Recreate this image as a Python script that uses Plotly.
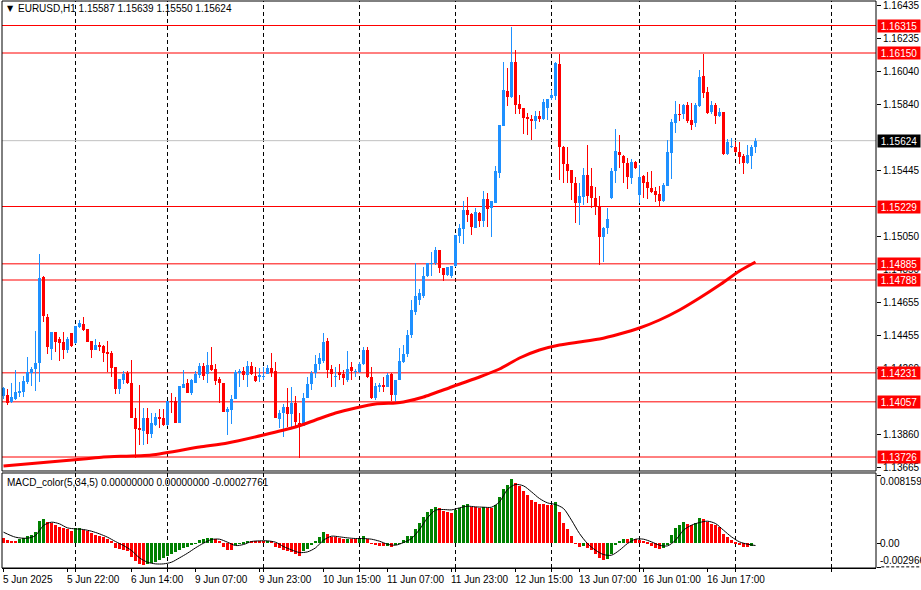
import plotly.graph_objects as go

# ---------------- data ----------------
opens = [1.14092,1.14098,1.14056,1.14074,1.14110,1.14116,1.14176,1.14230,1.14254,1.14290,
         1.14806,1.14566,1.14374,1.14476,1.14434,1.14416,1.14368,1.14470,1.14410,1.14506,
         1.14524,1.14494,1.14422,1.14368,1.14398,1.14392,1.14356,1.14350,1.14266,1.14134,
         1.14188,1.14230,1.14170,1.13960,1.13900,1.13882,1.13960,1.13864,1.13918,1.13966,
         1.13960,1.13918,1.14062,1.14062,1.13930,1.14140,1.14170,1.14110,1.14170,1.14218,
         1.14272,1.14224,1.14278,1.14254,1.14194,1.14170,1.13996,1.14008,1.14074,1.14230,
         1.14242,1.14218,1.14272,1.14212,1.14206,1.14206,1.14224,1.14260,1.14242,1.13954,
         1.13990,1.14026,1.13984,1.14050,1.13930,1.13912,1.14080,1.14164,1.14230,1.14284,
         1.14302,1.14422,1.14254,1.14206,1.14236,1.14224,1.14188,1.14266,1.14236,1.14236,
         1.14284,1.14368,1.14206,1.14080,1.14146,1.14158,1.14146,1.14224,1.14098,1.14188,
         1.14296,1.14344,1.14458,1.14596,1.14668,1.14692,1.14812,1.14884,1.14890,1.14968,
         1.14860,1.14818,1.14812,1.14872,1.15052,1.15094,1.15208,1.15184,1.15100,1.15190,
         1.15142,1.15274,1.15220,1.15250,1.15430,1.15712,1.15922,1.15886,1.16096,1.15844,
         1.15820,1.15766,1.15754,1.15742,1.15772,1.15754,1.15820,1.15880,1.15892,1.16084,
         1.15586,1.15484,1.15448,1.15370,1.15250,1.15286,1.15418,1.15352,1.15280,1.15232,
         1.15046,1.15100,1.15280,1.15442,1.15556,1.15532,1.15490,1.15400,1.15496,1.15298,
         1.15412,1.15376,1.15340,1.15322,1.15304,1.15262,1.15352,1.15550,1.15730,1.15784,
         1.15784,1.15838,1.15748,1.15730,1.15832,1.16012,1.15916,1.15796,1.15838,1.15772,
         1.15796,1.15544,1.15586,1.15586,1.15556,1.15532,1.15490,1.15532,1.15587]
highs = [1.14146,1.14134,1.14170,1.14248,1.14176,1.14212,1.14326,1.14266,1.14482,1.14944,
         1.14812,1.14584,1.14476,1.14476,1.14446,1.14476,1.14446,1.14470,1.14512,1.14548,
         1.14566,1.14494,1.14422,1.14434,1.14416,1.14398,1.14422,1.14362,1.14266,1.14194,
         1.14242,1.14242,1.14308,1.14020,1.14158,1.14020,1.14020,1.13990,1.13990,1.14014,
         1.14014,1.14062,1.14110,1.14086,1.14152,1.14248,1.14194,1.14194,1.14242,1.14290,
         1.14290,1.14356,1.14386,1.14284,1.14206,1.14170,1.14026,1.14098,1.14248,1.14254,
         1.14266,1.14302,1.14296,1.14266,1.14260,1.14266,1.14278,1.14350,1.14296,1.14008,
         1.14044,1.14140,1.14146,1.14092,1.13990,1.14110,1.14206,1.14242,1.14338,1.14350,
         1.14470,1.14440,1.14278,1.14266,1.14284,1.14248,1.14362,1.14296,1.14254,1.14296,
         1.14386,1.14386,1.14266,1.14170,1.14170,1.14206,1.14230,1.14230,1.14188,1.14380,
         1.14398,1.14488,1.14668,1.14890,1.14734,1.14866,1.14890,1.14956,1.14986,1.14968,
         1.14860,1.14866,1.14872,1.15058,1.15124,1.15262,1.15286,1.15190,1.15220,1.15196,
         1.15322,1.15310,1.15262,1.15472,1.15718,1.16096,1.16060,1.16306,1.16168,1.15898,
         1.15820,1.15790,1.15778,1.15802,1.15802,1.15874,1.15874,1.15928,1.16096,1.16144,
         1.15592,1.15586,1.15448,1.15406,1.15370,1.15460,1.15598,1.15460,1.15346,1.15292,
         1.15106,1.15220,1.15460,1.15694,1.15658,1.15538,1.15520,1.15514,1.15502,1.15478,
         1.15418,1.15436,1.15442,1.15346,1.15352,1.15370,1.15628,1.15754,1.15862,1.15844,
         1.15844,1.15856,1.15850,1.15850,1.16048,1.16144,1.15946,1.15862,1.15850,1.15820,
         1.15796,1.15634,1.15640,1.15616,1.15616,1.15544,1.15598,1.15598,1.15639]
lows = [1.14074,1.14038,1.14050,1.14068,1.14086,1.14086,1.14164,1.14152,1.14122,1.14176,
        1.14536,1.14344,1.14308,1.14356,1.14302,1.14314,1.14350,1.14386,1.14404,1.14500,
        1.14482,1.14416,1.14320,1.14368,1.14362,1.14296,1.14236,1.14206,1.14104,1.14104,
        1.14164,1.14164,1.13960,1.13720,1.13798,1.13798,1.13804,1.13840,1.13912,1.13900,
        1.13912,1.13912,1.13990,1.13930,1.13930,1.14140,1.14110,1.14098,1.14170,1.14200,
        1.14188,1.14170,1.14242,1.14158,1.14050,1.13996,1.13858,1.13924,1.14074,1.14146,
        1.14188,1.14146,1.14218,1.14176,1.14176,1.14188,1.14224,1.14206,1.13960,1.13900,
        1.13846,1.13906,1.13906,1.13900,1.13720,1.13912,1.14080,1.14128,1.14200,1.14248,
        1.14290,1.14200,1.14146,1.14146,1.14188,1.14158,1.14176,1.14188,1.14206,1.14230,
        1.14278,1.14200,1.14074,1.14068,1.14116,1.14116,1.14146,1.14062,1.14056,1.14188,
        1.14290,1.14326,1.14440,1.14578,1.14638,1.14680,1.14806,1.14812,1.14878,1.14830,
        1.14782,1.14812,1.14800,1.14866,1.15010,1.15004,1.15136,1.15058,1.15100,1.15106,
        1.15106,1.15106,1.15046,1.15250,1.15400,1.15712,1.15832,1.15880,1.15784,1.15784,
        1.15664,1.15658,1.15628,1.15694,1.15736,1.15748,1.15748,1.15868,1.15868,1.15388,
        1.15370,1.15370,1.15268,1.15130,1.15118,1.15238,1.15250,1.15220,1.15178,1.14878,
        1.14896,1.15064,1.15274,1.15370,1.15460,1.15370,1.15334,1.15364,1.15454,1.15250,
        1.15280,1.15274,1.15310,1.15256,1.15226,1.15256,1.15352,1.15394,1.15670,1.15742,
        1.15754,1.15730,1.15688,1.15706,1.15826,1.15880,1.15784,1.15784,1.15724,1.15766,
        1.15538,1.15538,1.15580,1.15550,1.15484,1.15424,1.15484,1.15454,1.15550]
closes = [1.14140,1.14050,1.14086,1.14116,1.14122,1.14182,1.14236,1.14254,1.14290,1.14800,
          1.14572,1.14386,1.14476,1.14416,1.14410,1.14368,1.14434,1.14392,1.14512,1.14530,
          1.14488,1.14416,1.14368,1.14398,1.14386,1.14350,1.14344,1.14260,1.14134,1.14194,
          1.14224,1.14170,1.13960,1.13894,1.13888,1.13960,1.13864,1.13930,1.13966,1.13954,
          1.13918,1.14062,1.14056,1.13930,1.14152,1.14164,1.14110,1.14188,1.14224,1.14272,
          1.14212,1.14278,1.14248,1.14182,1.14170,1.13996,1.14014,1.14074,1.14236,1.14242,
          1.14218,1.14272,1.14224,1.14182,1.14218,1.14212,1.14260,1.14230,1.13960,1.13990,
          1.14026,1.13984,1.14050,1.13936,1.13906,1.14080,1.14164,1.14230,1.14284,1.14320,
          1.14416,1.14248,1.14224,1.14212,1.14218,1.14200,1.14254,1.14242,1.14242,1.14284,
          1.14368,1.14206,1.14080,1.14152,1.14158,1.14146,1.14218,1.14098,1.14188,1.14302,
          1.14344,1.14458,1.14608,1.14692,1.14710,1.14812,1.14890,1.14890,1.14968,1.14860,
          1.14818,1.14866,1.14872,1.15058,1.15100,1.15208,1.15178,1.15106,1.15196,1.15142,
          1.15274,1.15214,1.15262,1.15442,1.15718,1.15928,1.15886,1.16096,1.15838,1.15814,
          1.15760,1.15754,1.15742,1.15772,1.15754,1.15856,1.15874,1.15898,1.16090,1.15586,
          1.15484,1.15442,1.15370,1.15250,1.15292,1.15418,1.15292,1.15280,1.15226,1.15046,
          1.15100,1.15154,1.15442,1.15562,1.15538,1.15490,1.15406,1.15496,1.15460,1.15406,
          1.15370,1.15340,1.15316,1.15298,1.15262,1.15358,1.15556,1.15736,1.15784,1.15778,
          1.15838,1.15742,1.15718,1.15838,1.16006,1.15910,1.15790,1.15838,1.15772,1.15796,
          1.15544,1.15616,1.15592,1.15556,1.15526,1.15490,1.15538,1.15586,1.15624]
bars = list(range(len(opens)))

ma_bars = [0, 20, 25, 37, 49, 56, 65, 73, 78, 83, 88, 93, 98, 100, 105, 112, 119, 124,
           129, 134, 139, 144, 149, 154, 159, 164, 169, 174, 179, 184, 188]
ma_values = [1.13672, 1.13714, 1.13726, 1.13738, 1.13786, 1.13810, 1.13858, 1.13906,
             1.13948, 1.13990, 1.14020, 1.14044, 1.14050, 1.14056, 1.14086, 1.14146,
             1.14206, 1.14254, 1.14320, 1.14368, 1.14398, 1.14416, 1.14434, 1.14464,
             1.14500, 1.14548, 1.14608, 1.14680, 1.14758, 1.14842, 1.14896]

macd_hist = [0.00060,0.00040,0.00032,0.00031,0.00048,0.00068,0.00090,0.00102,0.00132,0.00272,
             0.00292,0.00260,0.00244,0.00220,0.00192,0.00180,0.00172,0.00152,0.00180,0.00184,
             0.00164,0.00152,0.00120,0.00104,0.00092,0.00072,0.00048,0.00024,-0.00056,-0.00072,
             -0.00080,-0.00096,-0.00160,-0.00216,-0.00248,-0.00256,-0.00248,-0.00232,-0.00220,-0.00200,
             -0.00176,-0.00152,-0.00128,-0.00104,-0.00080,-0.00060,-0.00040,-0.00024,-0.00008,0.00040,
             0.00048,0.00064,0.00066,0.00052,0.00024,-0.00040,-0.00076,-0.00080,-0.00016,-0.00008,
             0.00016,0.00032,0.00030,0.00029,0.00028,0.00026,0.00031,0.00028,-0.00040,-0.00060,
             -0.00080,-0.00096,-0.00100,-0.00124,-0.00152,-0.00096,-0.00064,-0.00024,0.00032,0.00072,
             0.00132,0.00108,0.00080,0.00076,0.00064,0.00052,0.00056,0.00052,0.00048,0.00054,
             0.00084,0.00056,-0.00008,-0.00024,-0.00032,-0.00034,-0.00030,-0.00044,-0.00024,-0.00006,
             0.00044,0.00084,0.00088,0.00168,0.00240,0.00312,0.00372,0.00416,0.00432,0.00420,
             0.00384,0.00372,0.00364,0.00396,0.00428,0.00456,0.00468,0.00440,0.00438,0.00428,
             0.00436,0.00428,0.00426,0.00456,0.00552,0.00656,0.00704,0.00768,0.00728,0.00688,
             0.00628,0.00576,0.00524,0.00500,0.00468,0.00466,0.00463,0.00456,0.00496,0.00376,
             0.00248,0.00168,0.00084,-0.00008,-0.00044,-0.00032,-0.00056,-0.00084,-0.00124,-0.00176,
             -0.00204,-0.00184,-0.00124,-0.00024,0.00032,0.00048,0.00046,0.00064,0.00048,0.00036,
             0.00024,0.00004,-0.00032,-0.00056,-0.00064,-0.00056,-0.00024,0.00104,0.00184,0.00216,
             0.00256,0.00236,0.00224,0.00244,0.00304,0.00296,0.00256,0.00236,0.00216,0.00196,
             0.00116,0.00076,0.00036,0.00006,-0.00016,-0.00044,-0.00046,-0.00032,0.0]

signal_bars = [0, 3, 6, 8] + list(range(10, 189, 2))
signal_values = [0.00132,0.00072,0.00060,0.00092,0.00212,0.00252,0.00232,0.00184,0.00172,0.00164,
                 0.00144,0.00112,0.00072,0.00020,-0.00028,-0.00088,-0.00176,-0.00228,-0.00248,-0.00248,
                 -0.00228,-0.00176,-0.00120,-0.00056,0.00000,0.00044,0.00048,0.00012,-0.00028,-0.00016,
                 0.00020,0.00028,0.00028,0.00012,-0.00040,-0.00080,-0.00112,-0.00104,-0.00056,0.00036,
                 0.00084,0.00076,0.00064,0.00056,0.00056,0.00048,0.00024,-0.00012,-0.00024,0.00008,
                 0.00056,0.00164,0.00304,0.00396,0.00404,0.00400,0.00424,0.00444,0.00436,0.00432,
                 0.00432,0.00496,0.00644,0.00704,0.00688,0.00616,0.00536,0.00484,0.00464,0.00416,
                 0.00276,0.00116,-0.00004,-0.00084,-0.00136,-0.00144,-0.00084,-0.00004,0.00048,0.00048,
                 0.00016,-0.00024,-0.00032,0.00036,0.00156,0.00216,0.00248,0.00264,0.00236,0.00156,
                 0.00076,0.00016,-0.00012,-0.00028]

level_prices = [1.16315, 1.16150, 1.15229, 1.14885, 1.14788, 1.14231, 1.14057, 1.13726]
current_price = 1.15624
price_ticks = [1.16435, 1.16235, 1.16040, 1.15840, 1.15445, 1.15050, 1.14850,
               1.14655, 1.14455, 1.14260, 1.13860, 1.13665]
time_label_bars = [0, 16, 32, 48, 64, 80, 96, 112, 128, 144, 160, 176]
time_labels = ["5 Jun 2025", "5 Jun 22:00", "6 Jun 14:00", "9 Jun 07:00", "9 Jun 23:00",
               "10 Jun 15:00", "11 Jun 07:00", "11 Jun 23:00", "12 Jun 15:00",
               "13 Jun 07:00", "16 Jun 01:00", "16 Jun 17:00"]
day_start_bars = [18, 41, 65, 89, 113, 137, 159, 183, 207]
macd_ticks = [0.0081598, 0.0, -0.002966]
macd_tick_labels = ["0.0081598", "0.00", "-0.002966"]
title_text = "EURUSD,H1 1.15587 1.15639 1.15550 1.15624"
macd_text = "MACD_color(5,34,5) 0.00000000 0.00000000 -0.00027761"

# ---------------- figure ----------------
BLUE = "#1E90FF"
RED = "#FF0000"
GREEN = "#008000"
FONT = "Liberation Sans, Arial, sans-serif"

fig = go.Figure()

# wicks
wx_up, wy_up, wx_dn, wy_dn = [], [], [], []
for i, o, h, l, c in zip(bars, opens, highs, lows, closes):
    if c >= o:
        wx_up += [i, i, None]; wy_up += [l, h, None]
    else:
        wx_dn += [i, i, None]; wy_dn += [l, h, None]
fig.add_trace(go.Scatter(x=wx_up, y=wy_up, mode="lines", line=dict(color=BLUE, width=1),
                         hoverinfo="skip", xaxis="x", yaxis="y"))
fig.add_trace(go.Scatter(x=wx_dn, y=wy_dn, mode="lines", line=dict(color=RED, width=1),
                         hoverinfo="skip", xaxis="x", yaxis="y"))

# bodies
body_base = [min(o, c) for o, c in zip(opens, closes)]
body_h = [max(abs(c - o), 0.00003) for o, c in zip(opens, closes)]
body_col = [BLUE if c >= o else RED for o, c in zip(opens, closes)]
fig.add_trace(go.Bar(x=bars, y=body_h, base=body_base, width=0.75,
                     marker=dict(color=body_col, line=dict(width=0)),
                     hoverinfo="skip", xaxis="x", yaxis="y"))

# moving average
fig.add_trace(go.Scatter(x=ma_bars, y=ma_values, mode="lines",
                         line=dict(color=RED, width=3, shape="spline", smoothing=0.6),
                         hoverinfo="skip", xaxis="x", yaxis="y"))

# MACD histogram
hist_col = []
for k, v in enumerate(macd_hist):
    if k > 0 and v > macd_hist[k - 1]:
        hist_col.append(GREEN)
    else:
        hist_col.append(RED)
fig.add_trace(go.Bar(x=bars, y=macd_hist, width=0.75,
                     marker=dict(color=hist_col, line=dict(width=0)),
                     hoverinfo="skip", xaxis="x", yaxis="y2"))
fig.add_trace(go.Scatter(x=signal_bars, y=signal_values, mode="lines",
                         line=dict(color="black", width=1, shape="spline", smoothing=0.8),
                         hoverinfo="skip", xaxis="x", yaxis="y2"))

shapes = []
# day separators
for b in day_start_bars:
    for yr in ("y domain", "y2 domain"):
        shapes.append(dict(type="line", xref="x", yref=yr, x0=b, x1=b, y0=0, y1=1,
                           line=dict(color="black", width=1, dash="4px,3px"), layer="below"))
# level lines
for p in level_prices:
    shapes.append(dict(type="line", xref="x domain", yref="y", x0=0, x1=1, y0=p, y1=p,
                       line=dict(color=RED, width=1), layer="below"))
shapes.append(dict(type="line", xref="x domain", yref="y", x0=0, x1=1,
                   y0=current_price, y1=current_price,
                   line=dict(color="#C0C0C0", width=1), layer="below"))
# pane frames
shapes.append(dict(type="rect", xref="x domain", yref="y domain", x0=0, x1=1, y0=0, y1=1,
                   line=dict(color="black", width=1), layer="above"))
shapes.append(dict(type="rect", xref="x domain", yref="y2 domain", x0=0, x1=1, y0=0, y1=1,
                   line=dict(color="black", width=1), layer="above"))
# small dashed marker at bottom right
shapes.append(dict(type="line", xref="paper", yref="paper", x0=1.006, x1=1.05, y0=0.002, y1=0.002,
                   line=dict(color="black", width=1, dash="3px,2px")))

annotations = []
for p in level_prices:
    annotations.append(dict(xref="paper", x=1, xanchor="left", xshift=1, yref="y", y=p,
                            yanchor="middle", text=f"{p:.5f}", showarrow=False,
                            bgcolor=RED, font=dict(color="white", size=10, family=FONT),
                            width=42, height=12, align="center", borderpad=0))
annotations.append(dict(xref="paper", x=1, xanchor="left", xshift=1, yref="y", y=current_price,
                        yanchor="middle", text=f"{current_price:.5f}", showarrow=False,
                        bgcolor="black", font=dict(color="white", size=10, family=FONT),
                        width=42, height=12, align="center", borderpad=0))
# MACD scale labels
shifts = [-6, 0, 7]
for v, t, s in zip(macd_ticks, macd_tick_labels, shifts):
    annotations.append(dict(xref="paper", x=1, xanchor="left", xshift=2, yref="y2", y=v,
                            yanchor="middle", yshift=s, text=t, showarrow=False,
                            font=dict(color="black", size=10, family=FONT)))
# time labels
for b, t in zip(time_label_bars, time_labels):
    annotations.append(dict(xref="x", x=b, xanchor="left", xshift=-3, yref="paper", y=0,
                            yanchor="top", yshift=-4, text=t, showarrow=False,
                            font=dict(color="black", size=10, family=FONT)))
# titles
annotations.append(dict(xref="paper", yref="paper", x=0.0035, y=0.9875, xanchor="left",
                        yanchor="middle", text="▼", showarrow=False,
                        font=dict(size=8, color="black", family="DejaVu Sans")))
annotations.append(dict(xref="paper", yref="paper", x=0.0155, y=0.9875, xanchor="left",
                        yanchor="middle", text=title_text, showarrow=False,
                        font=dict(size=10, color="black", family=FONT)))
annotations.append(dict(xref="paper", yref="paper", x=0.004, y=0.1505, xanchor="left",
                        yanchor="middle", text=macd_text, showarrow=False,
                        font=dict(size=10, color="black", family=FONT)))

fig.update_layout(
    width=921, height=590,
    margin=dict(l=2, r=45, t=1, b=22),
    paper_bgcolor="white", plot_bgcolor="white",
    showlegend=False, barmode="overlay", bargap=0,
    font=dict(family=FONT, size=10, color="black"),
    shapes=shapes, annotations=annotations,
    xaxis=dict(range=[-0.375, 218.125], anchor="y2", showgrid=False, zeroline=False,
               tickmode="array", tickvals=sorted(set(time_label_bars + day_start_bars)),
               ticks="outside", ticklen=3, tickcolor="black", showticklabels=False,
               showline=True, linecolor="black", linewidth=1, fixedrange=True),
    yaxis=dict(domain=[0.171076, 1.0], range=[1.13642, 1.16462], side="right", anchor="x",
               tickmode="array", tickvals=price_ticks, ticktext=[f"{v:.5f}" for v in price_ticks],
               ticks="outside", ticklen=4, tickcolor="black", showgrid=False, zeroline=False,
               tickfont=dict(size=10, family=FONT, color="black"), fixedrange=True),
    yaxis2=dict(domain=[0.0, 0.167549], range=[-0.002976, 0.008424], side="right", anchor="x",
                tickmode="array", tickvals=macd_ticks, ticks="outside", ticklen=4,
                tickcolor="black", showticklabels=False, showgrid=False, zeroline=False,
                fixedrange=True),
)

fig.write_html("out.html", config={"displayModeBar": False},
               post_script="document.body.style.margin='0';document.body.style.overflow='hidden';")
